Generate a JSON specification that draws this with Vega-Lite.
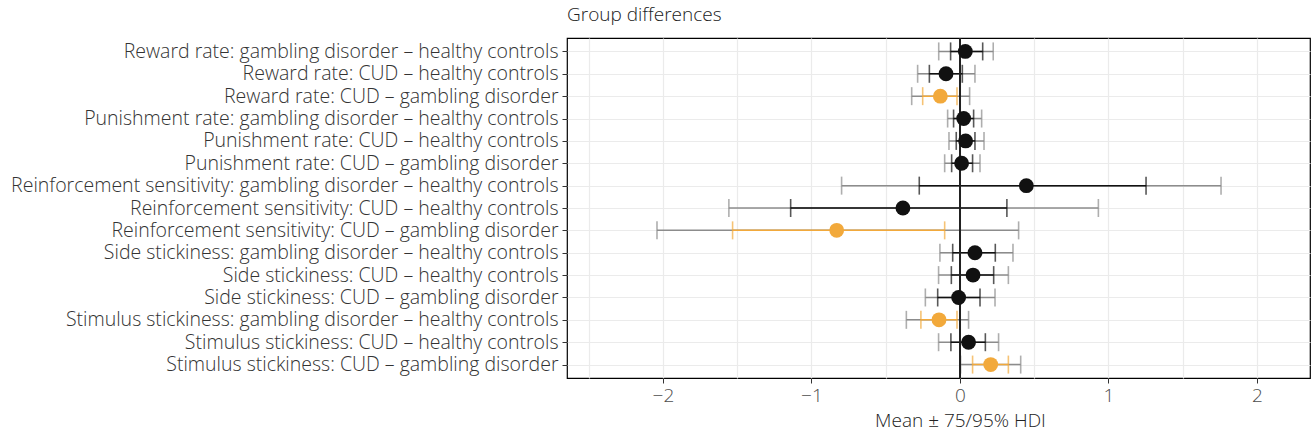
{
  "$schema": "https://vega.github.io/schema/vega-lite/v6.json",
  "autosize": "none",
  "width": 743,
  "height": 340,
  "padding": {"left": 567, "top": 38, "right": 4, "bottom": 60},
  "background": "white",
  "config": {
    "font": "Open Sans",
    "view": {"stroke": "#000000", "strokeWidth": 1.2},
    "axis": {"labelFont": "Open Sans", "titleFont": "Open Sans"}
  },
  "title": {
    "text": "Group differences",
    "anchor": "start",
    "frame": "group",
    "fontSize": 19,
    "fontWeight": 300,
    "font": "Open Sans",
    "color": "#222222",
    "offset": 12
  },
  "data": {
    "values": [
      {"label": "Reward rate: gambling disorder – healthy controls", "lo95": -0.143, "lo75": -0.063, "mean": 0.036, "hi75": 0.153, "hi95": 0.224, "sig": "no"},
      {"label": "Reward rate: CUD – healthy controls", "lo95": -0.285, "lo75": -0.206, "mean": -0.094, "hi75": 0.016, "hi95": 0.101, "sig": "no"},
      {"label": "Reward rate: CUD – gambling disorder", "lo95": -0.325, "lo75": -0.251, "mean": -0.132, "hi75": -0.02, "hi95": 0.065, "sig": "yes"},
      {"label": "Punishment rate: gambling disorder – healthy controls", "lo95": -0.083, "lo75": -0.043, "mean": 0.025, "hi75": 0.092, "hi95": 0.146, "sig": "no"},
      {"label": "Punishment rate: CUD – healthy controls", "lo95": -0.074, "lo75": -0.025, "mean": 0.038, "hi75": 0.101, "hi95": 0.162, "sig": "no"},
      {"label": "Punishment rate: CUD – gambling disorder", "lo95": -0.103, "lo75": -0.056, "mean": 0.011, "hi75": 0.085, "hi95": 0.135, "sig": "no"},
      {"label": "Reinforcement sensitivity: gambling disorder – healthy controls", "lo95": -0.797, "lo75": -0.274, "mean": 0.447, "hi75": 1.253, "hi95": 1.758, "sig": "no"},
      {"label": "Reinforcement sensitivity: CUD – healthy controls", "lo95": -1.556, "lo75": -1.14, "mean": -0.384, "hi75": 0.316, "hi95": 0.932, "sig": "no"},
      {"label": "Reinforcement sensitivity: CUD – gambling disorder", "lo95": -2.04, "lo75": -1.531, "mean": -0.83, "hi75": -0.103, "hi95": 0.395, "sig": "yes"},
      {"label": "Side stickiness: gambling disorder – healthy controls", "lo95": -0.135, "lo75": -0.049, "mean": 0.101, "hi75": 0.238, "hi95": 0.357, "sig": "no"},
      {"label": "Side stickiness: CUD – healthy controls", "lo95": -0.144, "lo75": -0.058, "mean": 0.088, "hi75": 0.227, "hi95": 0.326, "sig": "no"},
      {"label": "Side stickiness: CUD – gambling disorder", "lo95": -0.233, "lo75": -0.15, "mean": -0.009, "hi75": 0.135, "hi95": 0.236, "sig": "no"},
      {"label": "Stimulus stickiness: gambling disorder – healthy controls", "lo95": -0.361, "lo75": -0.263, "mean": -0.141, "hi75": -0.02, "hi95": 0.058, "sig": "yes"},
      {"label": "Stimulus stickiness: CUD – healthy controls", "lo95": -0.144, "lo75": -0.061, "mean": 0.058, "hi75": 0.171, "hi95": 0.26, "sig": "no"},
      {"label": "Stimulus stickiness: CUD – gambling disorder", "lo95": 0.004, "lo75": 0.085, "mean": 0.207, "hi75": 0.326, "hi95": 0.409, "sig": "yes"}
    ]
  },
  "encoding": {
    "y": {
      "field": "label",
      "type": "nominal",
      "sort": null,
      "scale": {"type": "point", "padding": 0.6},
      "axis": {
        "title": null,
        "grid": true,
        "labelFontSize": 19.5,
        "labelColor": "#333333",
        "labelFont": "Open Sans",
        "labelFontWeight": 300,
        "tickColor": "#333333",
        "tickSize": 5,
        "labelPadding": 4,
        "labelLimit": 800,
        "domain": false,
        "gridColor": "#EBEBEB",
        "gridWidth": 1.2
      }
    }
  },
  "layer": [
    {
      "mark": {"type": "rule", "color": "#8C8C8C", "strokeWidth": 1.5},
      "encoding": {
        "x": {
          "field": "lo95",
          "type": "quantitative",
          "scale": {"domain": [-2.646, 2.357], "nice": false, "zero": false},
          "axis": {
            "title": "Mean ± 75/95% HDI",
            "titleFontSize": 19,
            "titleFontWeight": 300,
            "titleColor": "#222222",
            "titleAnchor": "start",
            "titleAlign": "center",
            "titleX": 393,
            "titlePadding": 6,
            "values": [-2.5, -2, -1.5, -1, -0.5, 0, 0.5, 1, 1.5, 2],
            "format": ".0f",
            "labelExpr": "datum.value % 1 === 0 ? datum.label : ''",
            "labelFontSize": 19,
            "labelFontWeight": 300,
            "labelColor": "#4D4D4D",
            "labelPadding": 3,
            "tickSize": 5,
            "tickColor": "#333333",
            "tickOpacity": {"condition": {"test": "datum.value % 1 !== 0", "value": 0}, "value": 1},
            "domain": false,
            "gridColor": "#EBEBEB",
            "gridWidth": 1.2
          }
        },
        "x2": {"field": "hi95"}
      }
    },
    {
      "transform": [{"fold": ["lo95", "hi95"], "as": ["end", "v"]}],
      "mark": {"type": "tick", "color": "#8C8C8C", "size": 18, "thickness": 1.6},
      "encoding": {"x": {"field": "v", "type": "quantitative"}}
    },
    {
      "mark": {"type": "rule", "strokeWidth": 1.5},
      "encoding": {
        "x": {"field": "lo75", "type": "quantitative"},
        "x2": {"field": "hi75"},
        "color": {"field": "sig", "type": "nominal", "scale": {"domain": ["no", "yes"], "range": ["#111111", "#F2A93B"]}, "legend": null}
      }
    },
    {
      "transform": [{"fold": ["lo75", "hi75"], "as": ["end", "v"]}],
      "mark": {"type": "tick", "size": 18, "thickness": 1.6},
      "encoding": {
        "x": {"field": "v", "type": "quantitative"},
        "color": {"field": "sig", "type": "nominal", "scale": {"domain": ["no", "yes"], "range": ["#111111", "#F2A93B"]}, "legend": null}
      }
    },
    {
      "mark": {"type": "rule", "color": "#222222", "strokeWidth": 1.3},
      "encoding": {"x": {"datum": 0}, "y": {"value": 0}, "y2": {"value": 340}}
    },
    {
      "mark": {"type": "circle", "opacity": 1, "size": 220},
      "encoding": {
        "x": {"field": "mean", "type": "quantitative"},
        "color": {"field": "sig", "type": "nominal", "scale": {"domain": ["no", "yes"], "range": ["#000000", "#F2A93B"]}, "legend": null}
      }
    }
  ]
}
